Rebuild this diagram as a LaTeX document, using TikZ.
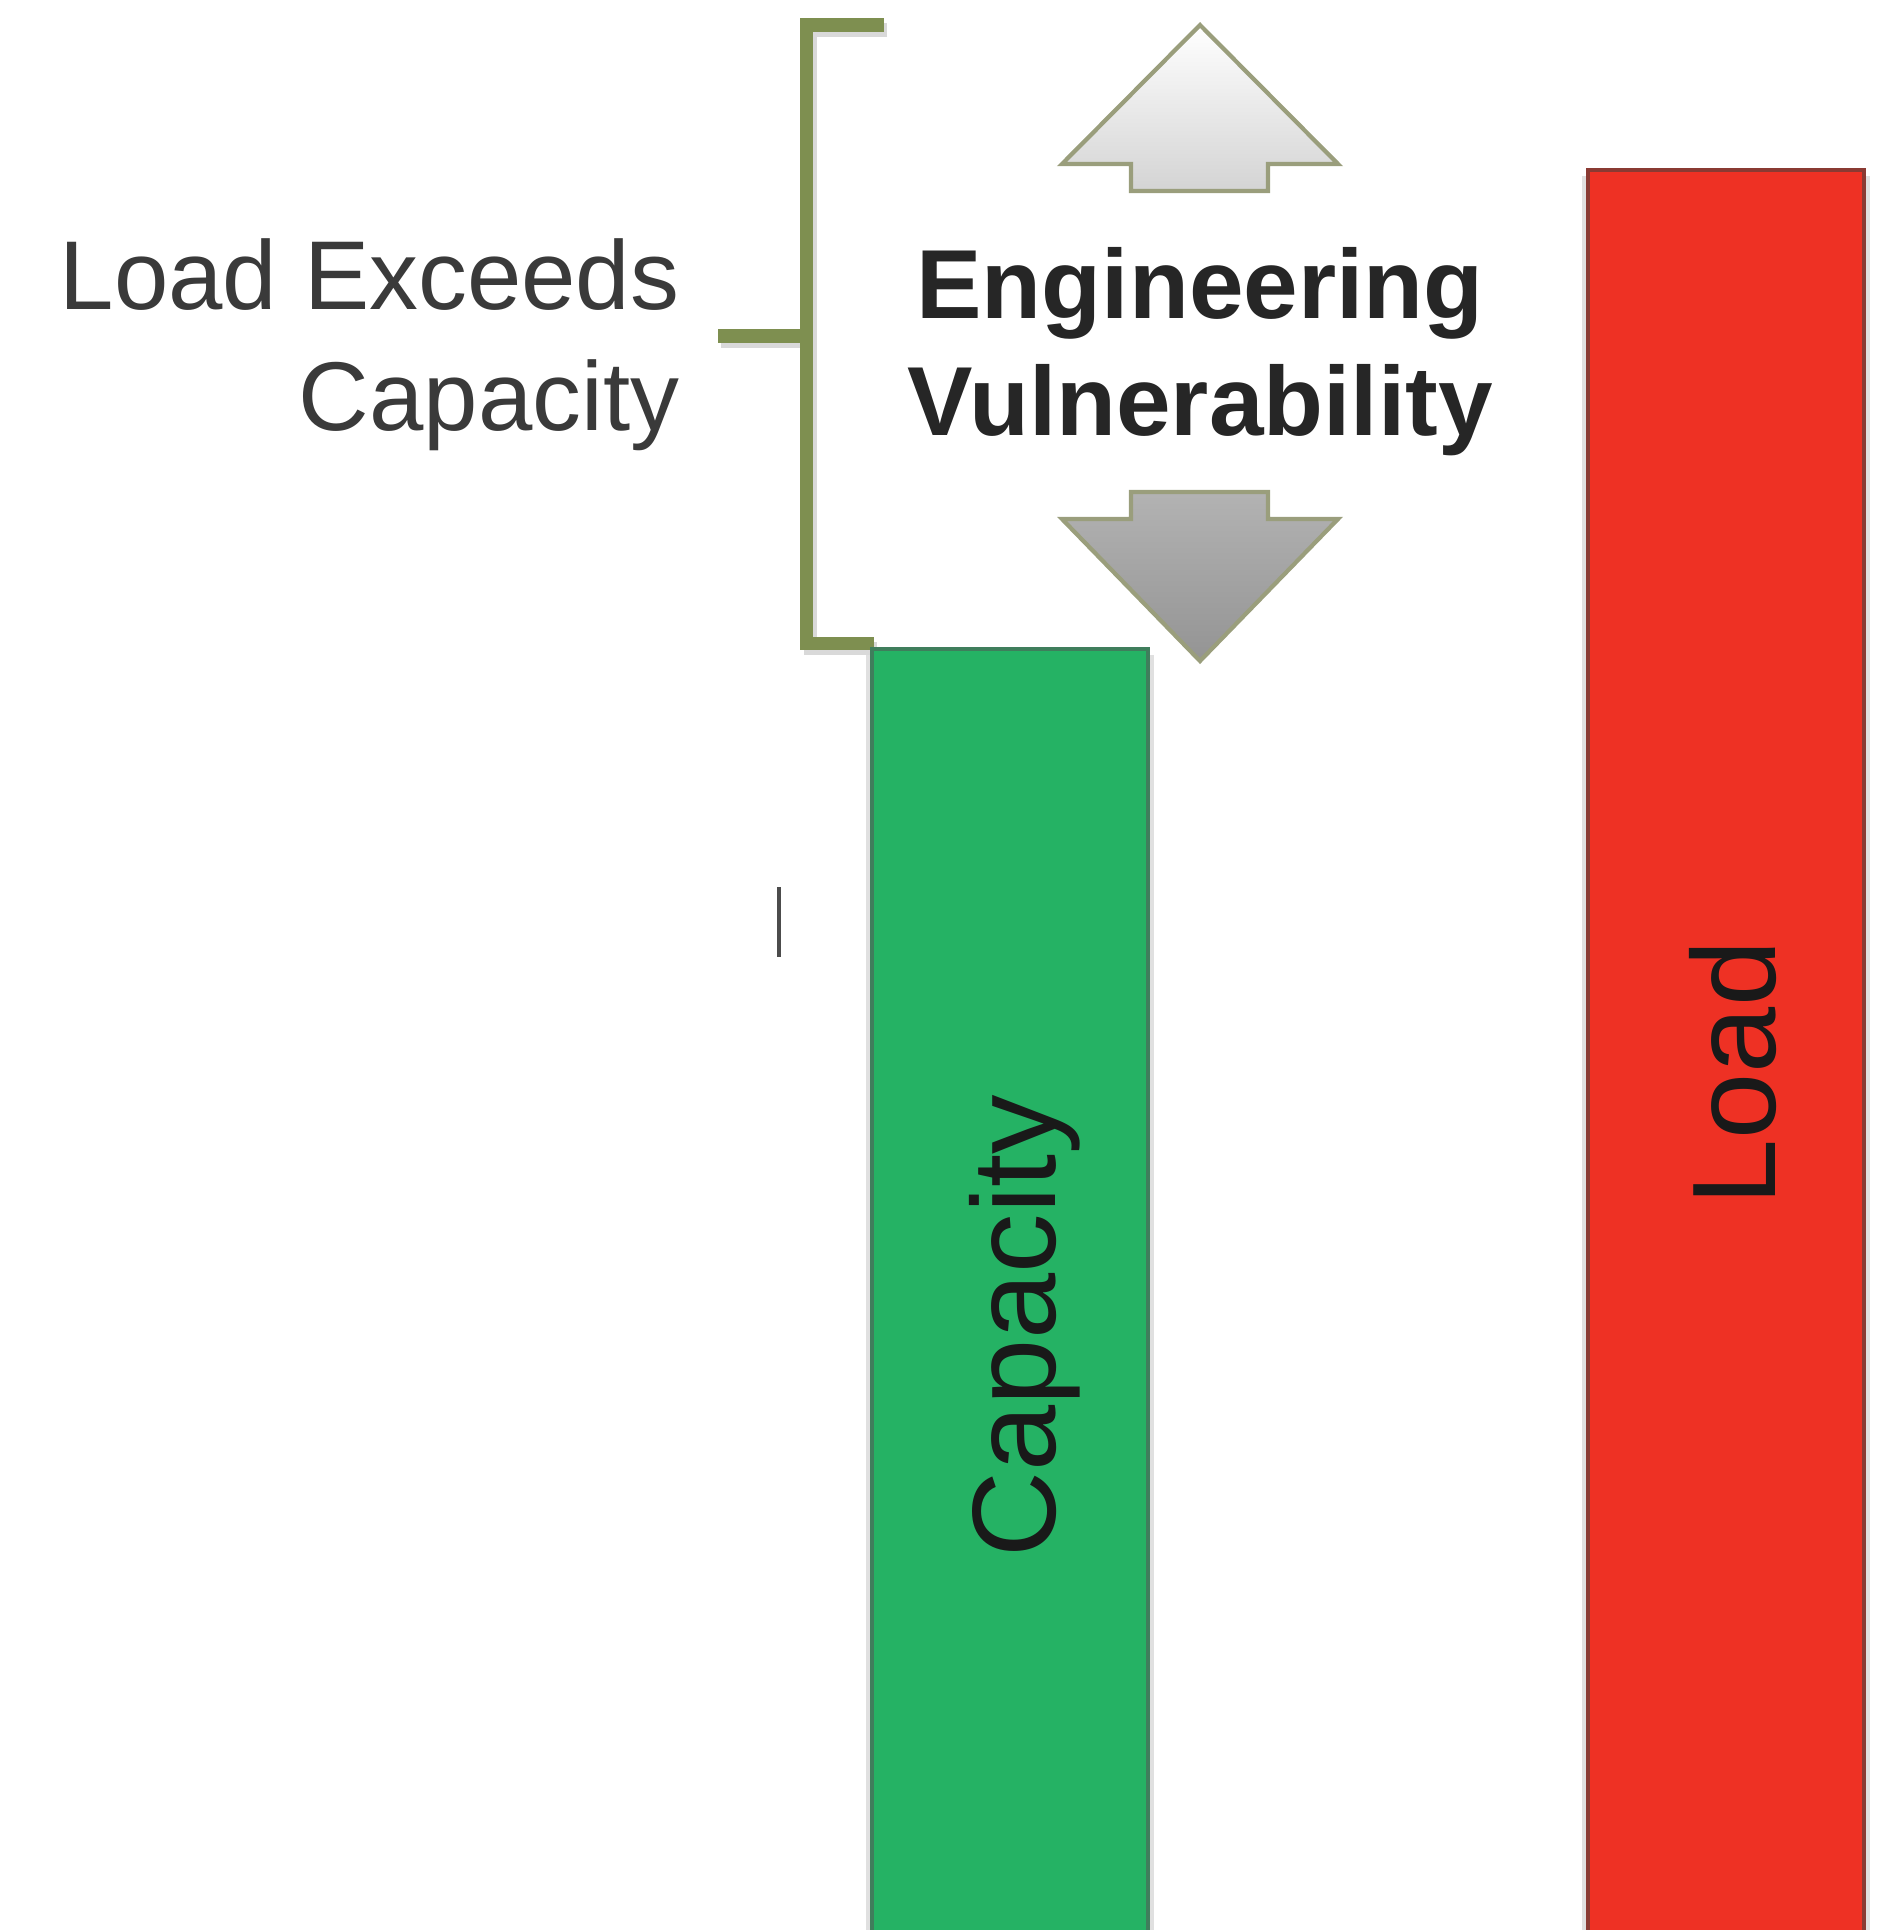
\documentclass[tikz,border=0pt]{standalone}
\usepackage{fontspec}
\setmainfont{Liberation Sans}
\definecolor{bracketgreen}{HTML}{7E8F50}
\definecolor{capgreen}{HTML}{25B264}
\definecolor{capedge}{HTML}{3F7E5C}
\definecolor{loadred}{HTML}{EE3124}
\definecolor{loadedge}{HTML}{8A3A33}
\definecolor{arrowedge}{HTML}{9A9E7C}
\definecolor{labelgrey}{HTML}{3A3A3A}
\tikzset{
  sidelabel/.style={inner sep=0pt, align=right, text=labelgrey,
    font=\fontsize{27.8}{34.3}\selectfont},
  titlelabel/.style={inner sep=0pt, align=center, text=black!85,
    font=\fontsize{27.9}{33.2}\selectfont\bfseries},
  barlabel/.style={inner sep=0pt, text=black!90, rotate=90,
    font=\fontsize{33.8}{40}\selectfont},
  bracketline/.style={line width=3.7pt, bracketgreen},
  bracketshadow/.style={line width=3.7pt, black!15},
  arrowshape/.style={draw=arrowedge, line width=1.2pt, line join=miter}
}
\begin{document}
\begin{tikzpicture}[x=0.01cm, y=-0.01cm]
        \useasboundingbox (0,0) rectangle (1901,1930);
        \clip (0,0) rectangle (1901,1930);
        % bracket
        \coordinate (brtop) at (884,25);
        \coordinate (brbot) at (874,643);
        \coordinate (brtick) at (718,336);
        \draw [bracketshadow] (887,30) -- (810,30) -- (810,648) -- (877,648);
        \draw [bracketshadow] (721,341) -- (810,341);
        \draw [bracketline] (brtop) -- (806,25) -- (806,643) -- (brbot);
        \draw [bracketline] (brtick) -- (806,336);
        % arrows
        \draw [arrowshape, top color=white, bottom color=black!17]
            (1200,25) -- (1338,164) -- (1268,164) -- (1268,191)
            -- (1131,191) -- (1131,164) -- (1062,164) -- cycle;
        \draw [arrowshape, top color=black!30, bottom color=black!42]
            (1131,492) -- (1268,492) -- (1268,519) -- (1338,519)
            -- (1200,661) -- (1062,519) -- (1131,519) -- cycle;
        % bars
        \fill [black!12] (866,655) rectangle (1154,1940);
        \fill [black!12] (1582,176) rectangle (1870,1940);
        \draw [fill=capgreen, draw=capedge, line width=1.2pt] (872,649) rectangle (1148,1940);
        \draw [fill=loadred, draw=loadedge, line width=1.2pt] (1588,170) rectangle (1864,1940);
        % small mark
        \draw [line width=1.1pt, black!70] (779,887) -- (779,957);
        % labels
        \node [sidelabel, anchor=east] (exceeds) at (680,345) {Load Exceeds\\Capacity};
        \node [titlelabel] (vuln) at (1200,352) {Engineering\\Vulnerability};
        \node [barlabel] (capacity) at (1025,1326) {Capacity};
        \node [barlabel] (load) at (1733,1073) {Load};
    \end{tikzpicture}
\end{document}
